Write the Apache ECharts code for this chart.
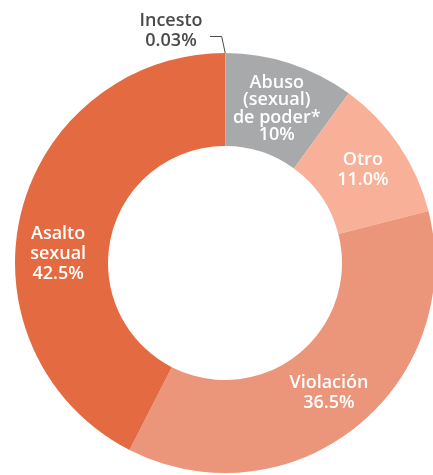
<!DOCTYPE html>
<html>
<head>
<meta charset="utf-8">
<script src="https://cdn.jsdelivr.net/npm/echarts@6/dist/echarts.min.js"></script>
<style>
  html, body { margin: 0; padding: 0; background: #fff; }
  #chart { width: 433px; height: 475px; }
</style>
</head>
<body>
<div id="chart"></div>
<script>
// categories, clockwise from the top
var names = ['Incesto', 'Abuso\n(sexual)\nde poder*', 'Otro', 'Violación', 'Asalto\nsexual'];
var values = [0.03, 10, 11.0, 36.5, 42.5];
var valueLabels = ['0.03%', '10%', '11.0%', '36.5%', '42.5%'];
var colors = ['#8c8c8c', '#a8a9ab', '#f8b198', '#eb957a', '#e36a41'];

var pieData = names.map(function (n, i) {
    var item = {
        name: n,
        value: values[i],
        itemStyle: { color: colors[i] }
    };
    if (i === 0) {
        item.label = {
            position: 'outside',
            color: '#4a4a4a'
        };
        item.labelLine = {
            show: true,
            lineStyle: { color: '#4a4a4a', width: 1 }
        };
    }
    if (i === 1) {
        item.label = { lineHeight: 17.5, offset: [0, 4] };
    }
    if (i === 4) {
        item.label = { offset: [-5, 30] };
    }
    return item;
});

var myChart = echarts.init(document.getElementById('chart'));
myChart.setOption({
    animation: false,
    series: [
        {
            type: 'pie',
            center: [225, 263],
            radius: [117, 210],
            startAngle: 90,
            clockwise: true,
            avoidLabelOverlap: false,
            label: {
                show: true,
                position: 'inside',
                color: '#ffffff',
                fontFamily: 'Open Sans',
                fontWeight: 600,
                fontSize: 18,
                lineHeight: 20,
                align: 'center',
                formatter: function (p) {
                    return p.name + '\n' + valueLabels[p.dataIndex];
                }
            },
            labelLine: { show: false },
            labelLayout: function (params) {
                if (params.dataIndex !== 0) return {};
                var p0 = params.labelLinePoints ? params.labelLinePoints[0] : [225, 52];
                return {
                    x: 171,
                    y: 31,
                    align: 'center',
                    verticalAlign: 'middle',
                    labelLinePoints: [p0, [p0[0] - 3.5, 36.5], [210, 36.5]]
                };
            },
            data: pieData
        }
    ]
});
</script>
</body>
</html>
